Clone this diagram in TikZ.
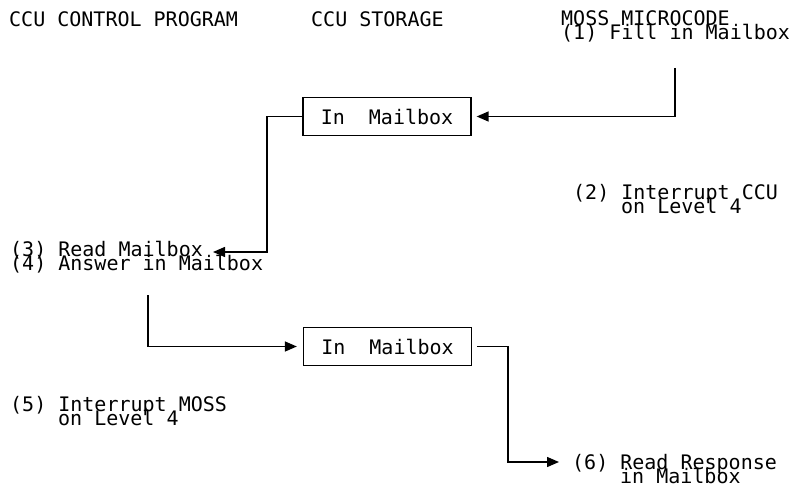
\documentclass[tikz,border=0pt]{standalone}
\usepackage{fontspec}
\setmonofont{DejaVu Sans Mono}
\usetikzlibrary{arrows.meta}
\begin{document}
\begin{tikzpicture}[x=1pt,y=-1pt,
  font=\ttfamily\fontsize{20}{14}\selectfont,
  lbl/.style={inner sep=0pt, anchor=base west},
  mbox/.style={draw, line width=1.3pt, minimum width=168pt, minimum height=38pt, inner sep=0pt},
  conn/.style={line width=1.4pt},
  arr/.style={conn, -{Triangle[length=12pt,width=10pt]}}]
\useasboundingbox (0,0) rectangle (792,492);
% headings
\node[lbl] (h1) at (9,27) {CCU CONTROL PROGRAM};
\node[lbl] (h2) at (311,27) {CCU STORAGE};
\node[lbl] (h3) at (561,26) {MOSS MICROCODE};
% steps
\node[lbl] (s1) at (561,40) {(1) Fill in Mailbox};
\node[lbl] (s2a) at (573,199) {(2) Interrupt CCU};
\node[lbl] (s2b) at (621,213) {on Level 4};
\node[lbl] (s3) at (10,256) {(3) Read Mailbox};
\node[lbl] (s4) at (10,270) {(4) Answer in Mailbox};
\node[lbl] (s5a) at (10,411) {(5) Interrupt MOSS};
\node[lbl] (s5b) at (58,425) {on Level 4};
\node[lbl] (s6a) at (572,469) {(6) Read Response};
\node[lbl] (s6b) at (620,483) {in Mailbox};
% mailboxes
\node[mbox] (b1) at (387,116.5) {In\ \ Mailbox};
\node[mbox] (b2) at (387.5,346.5) {In\ \ Mailbox};
% connector points
\coordinate (c1) at (675,68);
\coordinate (c2) at (267,252);
\coordinate (c3) at (213,252);
\coordinate (c4) at (148,295);
\coordinate (c5) at (508,462);
\coordinate (c6) at (559,462);
% connectors
\draw[arr] (c1) |- ([xshift=5pt]b1.east);
\draw[arr] (b1.west) -| (c2) -- (c3);
\draw[arr] (c4) |- ([xshift=-6pt]b2.west);
\draw[arr] ([xshift=5pt]b2.east) -| (c5) -- (c6);
\end{tikzpicture}
\end{document}
